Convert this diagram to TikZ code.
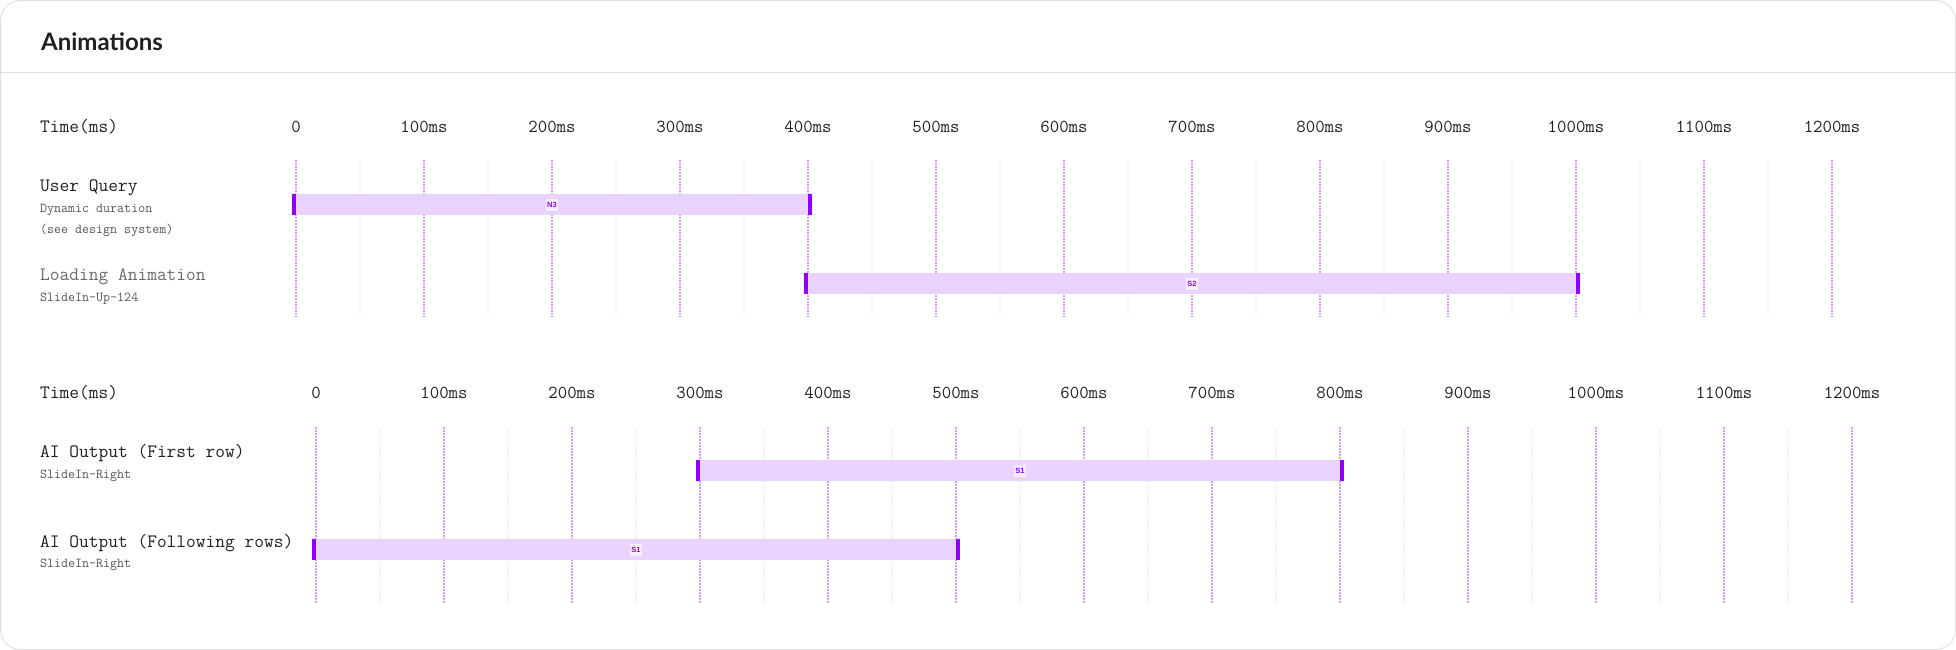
\documentclass[tikz,border=0pt]{standalone}
\usepackage{fontspec}
\newfontfamily\headfont{Lato}
\newfontfamily\tagfont{Liberation Sans}
\usetikzlibrary{positioning}

\definecolor{cardline}{HTML}{E0E0E0}
\definecolor{inkdark}{HTML}{1F1F1F}
\definecolor{subgray}{HTML}{555555}
\definecolor{fadedgray}{HTML}{6A6A6A}
\definecolor{gridmajor}{HTML}{CF9FFF}
\definecolor{gridminor}{HTML}{F5EEFF}
\definecolor{barfill}{HTML}{EBD3FF}
\definecolor{barmark}{HTML}{8F00FF}
\definecolor{tagbg}{HTML}{F6EEFF}

\tikzset{
    cardframe/.style={draw=cardline, line width=1pt, rounded corners=20pt},
    sepline/.style={draw=cardline, line width=1pt},
    heading/.style={anchor=base west, inner sep=0pt, text=inkdark,
           font=\headfont\bfseries\fontsize{24}{28}\selectfont},
    rowlabel/.style={anchor=mid west, inner sep=0pt, text=inkdark,
           font=\ttfamily\fontsize{18.9}{20}\selectfont},
    rowsub/.style={anchor=mid west, inner sep=0pt, text=subgray,
           font=\ttfamily\fontsize{13.6}{15}\selectfont},
    ticklabel/.style={anchor=mid, inner sep=0pt, text=inkdark,
           font=\ttfamily\fontsize{18.3}{20}\selectfont},
    majorgrid/.style={draw=gridmajor, line width=1.2pt, dash pattern=on 1.5pt off 1.5pt},
    minorgrid/.style={draw=gridminor, line width=1.2pt, dash pattern=on 1.5pt off 1.5pt},
    barbody/.style={fill=barfill},
    barend/.style={fill=barmark},
    bartag/.style={fill=tagbg, text=barmark, inner sep=0pt,
           minimum width=12pt, minimum height=12pt,
           font=\tagfont\bfseries\fontsize{7.5}{7.5}\selectfont},
}

\begin{document}
\begin{tikzpicture}[x=1pt,y=-1pt]

  \useasboundingbox (0,0) rectangle (1956,650);

  % card and header
  \draw[cardframe] (0.5,0.5) rectangle (1955.5,649.5);
  \draw[sepline] (0.5,73) -- (1955.5,73);
  \node[heading] (head) at (41,51) {Animations};

  % upper timeline
  \node[rowlabel] (time1) at (40,130) {Time(ms)};
  \foreach \k in {0,...,11}
    \draw[minorgrid] ({360+128*\k},160) -- ({360+128*\k},317);
  \foreach \k in {0,...,12}
    \draw[majorgrid] ({296+128*\k},160) -- ({296+128*\k},317);
  \node[ticklabel] (ta0) at (296,130) {0};
  \foreach \k in {1,...,12}
    \node[ticklabel] (ta\k) at ({296+128*\k},130) {\k00ms};

  \node[rowlabel] (query) at (40,189) {User Query};
  \node[rowsub] (querysub) at (40,210) {Dynamic duration};
  \node[rowsub] (querynote) at (40,231) {(see design system)};
  \fill[barbody] (296,194) rectangle (808,215);
  \fill[barend] (292,194) rectangle (296,215);
  \fill[barend] (808,194) rectangle (812,215);
  \node[bartag] (queryTag) at (552,204.5) {N3};

  \node[rowlabel, text=fadedgray] (loading) at (40,278) {Loading Animation};
  \node[rowsub] (loadingsub) at (40,299) {SlideIn-Up-124};
  \fill[barbody] (808,273) rectangle (1576,294);
  \fill[barend] (804,273) rectangle (808,294);
  \fill[barend] (1576,273) rectangle (1580,294);
  \node[bartag] (loadingTag) at (1192,283.5) {S2};

  % lower timeline
  \node[rowlabel] (time2) at (40,396) {Time(ms)};
  \foreach \k in {0,...,11}
    \draw[minorgrid] ({380+128*\k},427) -- ({380+128*\k},603);
  \foreach \k in {0,...,12}
    \draw[majorgrid] ({316+128*\k},427) -- ({316+128*\k},603);
  \node[ticklabel] (tb0) at (316,396) {0};
  \foreach \k in {1,...,12}
    \node[ticklabel] (tb\k) at ({316+128*\k},396) {\k00ms};

  \node[rowlabel] (first) at (40,455) {AI Output (First row)};
  \node[rowsub] (firstsub) at (40,476) {SlideIn-Right};
  \fill[barbody] (700,460) rectangle (1340,481);
  \fill[barend] (696,460) rectangle (700,481);
  \fill[barend] (1340,460) rectangle (1344,481);
  \node[bartag] (firstTag) at (1020,470.5) {S1};

  \node[rowlabel] (follow) at (40,545) {AI Output (Following rows)};
  \node[rowsub] (followsub) at (40,565) {SlideIn-Right};
  \fill[barbody] (316,539) rectangle (956,560);
  \fill[barend] (312,539) rectangle (316,560);
  \fill[barend] (956,539) rectangle (960,560);
  \node[bartag] (followTag) at (636,549.5) {S1};

\end{tikzpicture}
\end{document}
